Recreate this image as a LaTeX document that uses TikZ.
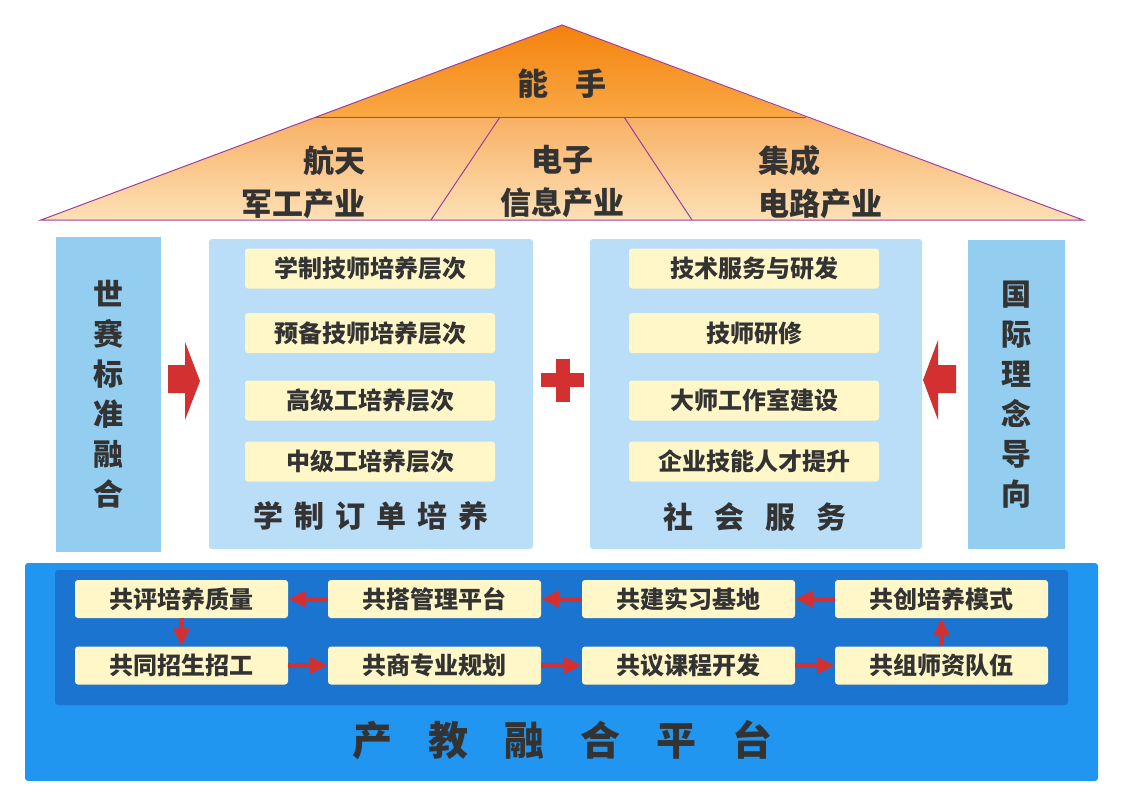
\documentclass[tikz,border=0pt]{standalone}
\usepackage{fontspec}
\setmainfont{Noto Sans CJK SC}
\usetikzlibrary{arrows.meta, positioning}
\definecolor{ink}{HTML}{333333}
\definecolor{roofline}{HTML}{9E3FA0}
\definecolor{rooftop}{HTML}{F4820C}
\definecolor{roofmid}{HTML}{F9A845}
\definecolor{roofmidb}{HTML}{F8B063}
\definecolor{roofbot}{HTML}{FDE0B6}
\definecolor{sideblue}{HTML}{93CDEF}
\definecolor{paleblue}{HTML}{BBDEF8}
\definecolor{itemyellow}{HTML}{FFF7C8}
\definecolor{platblue}{HTML}{2196F0}
\definecolor{deepblue}{HTML}{1B74CF}
\definecolor{arrowred}{HTML}{D33131}
\tikzset{>=Triangle}

\begin{document}
\begin{tikzpicture}[x=1pt, y=-1pt, text=ink, font=\bfseries,
    sidebox/.style={fill=sideblue, align=center, font=\fontsize{30}{40}\selectfont\bfseries},
    panel/.style={fill=paleblue, rounded corners=3pt},
    item/.style={fill=itemyellow, rounded corners=3pt, minimum width=250pt, minimum height=40pt, inner sep=0pt, font=\fontsize{24}{24}\selectfont\bfseries},
    joint/.style={fill=itemyellow, rounded corners=3pt, minimum width=213pt, minimum height=38pt, inner sep=0pt, font=\fontsize{24}{24}\selectfont\bfseries},
    roof/.style={inner sep=0pt, font=\fontsize{31}{43}\selectfont\bfseries},
    flow/.style={->, draw=arrowred, line width=5pt, >={Triangle[length=18pt,width=16pt]}}]
		\useasboundingbox (0,0) rectangle (1124,808);
		
		% roof
		\coordinate (apex) at (562,25);
		\coordinate (ml) at (316,117);
		\coordinate (mr) at (806,117);
		\coordinate (bl) at (41,220);
		\coordinate (br) at (1083,220);
		\shade[top color=rooftop, bottom color=roofmid] (apex) -- (ml) -- (mr) -- cycle;
		\shade[top color=roofmidb, bottom color=roofbot] (ml) -- (bl) -- (br) -- (mr) -- cycle;
		\draw[roofline, line width=1pt] (apex) -- (bl) -- (br) -- cycle;
		\draw[roofline, line width=1pt] (ml) -- (mr);
		\draw[roofline, line width=1pt] (500,117) -- (431,220);
		\draw[roofline, line width=1pt] (624,117) -- (692,220);
		\node[roof] (top) at (562,84) {能\hspace{28pt}手};
		\node[roof, align=right, anchor=east] (aero) at (366,182) {航天\\军工产业};
		\node[roof, align=center] (elec) at (562,182) {电子\\信息产业};
		\node[roof, align=left, anchor=west] (chip) at (758,182) {集成\\电路产业};
		
		% side columns
		\node[sidebox, minimum width=105pt, minimum height=315pt] (wsc) at (108.5,394.5) {世\\赛\\标\\准\\融\\合};
		\node[sidebox, minimum width=97pt, minimum height=309pt] (intl) at (1016.5,394.5) {国\\际\\理\\念\\导\\向};
		
		% two panels
		\node[panel, minimum width=324pt, minimum height=310pt] (order) at (371,394) {};
		\node[panel, minimum width=332pt, minimum height=310pt] (serve) at (756,394) {};
		\node[item] (s1) at (370,268.5) {学制技师培养层次};
		\node[item] (s2) at (370,333) {预备技师培养层次};
		\node[item] (s3) at (370,400.5) {高级工培养层次};
		\node[item] (s4) at (370,461.5) {中级工培养层次};
		\node[item] (t1) at (754,268.5) {技术服务与研发};
		\node[item] (t2) at (754,333) {技师研修};
		\node[item] (t3) at (754,400.5) {大师工作室建设};
		\node[item] (t4) at (754,461.5) {企业技能人才提升};
		\node[font=\fontsize{30}{30}\selectfont\bfseries] (orderlbl) at (371,516)
			{学\hspace{11pt}制\hspace{11pt}订\hspace{11pt}单\hspace{11pt}培\hspace{11pt}养};
		\node[font=\fontsize{30}{30}\selectfont\bfseries] (servelbl) at (755,517)
			{社\hspace{21pt}会\hspace{21pt}服\hspace{21pt}务};
		
		% red arrows and plus
		\fill[arrowred] (168,365) -- (185,365) -- (185,342) -- (200,381) -- (185,420) -- (185,393) -- (168,393) -- cycle;
		\fill[arrowred] (956,365) -- (938,365) -- (938,340) -- (923,380) -- (938,420) -- (938,393) -- (956,393) -- cycle;
		\fill[arrowred] (541,373) rectangle (584,387);
		\fill[arrowred] (555.5,359) rectangle (569.5,402);
		
		% platform
		\node[fill=platblue, rounded corners=3pt, minimum width=1073pt, minimum height=218pt] (plat) at (561.5,672) {};
		\node[fill=deepblue, rounded corners=3pt, minimum width=1013pt, minimum height=135pt] (ring) at (561.5,637.5) {};
		\node[joint] (c1) at (181.5,599) {共评培养质量};
		\node[joint] (c2) at (434.5,599) {共搭管理平台};
		\node[joint] (c3) at (688.5,599) {共建实习基地};
		\node[joint] (c4) at (941.5,599) {共创培养模式};
		\node[joint] (g1) at (181.5,665.5) {共同招生招工};
		\node[joint] (g2) at (434.5,665.5) {共商专业规划};
		\node[joint] (g3) at (688.5,665.5) {共议课程开发};
		\node[joint] (g4) at (941.5,665.5) {共组师资队伍};
		\draw[flow] (c4) -- (c3);
		\draw[flow] (c3) -- (c2);
		\draw[flow] (c2) -- (c1);
		\draw[flow] (c1) -- (g1);
		\draw[flow] (g1) -- (g2);
		\draw[flow] (g2) -- (g3);
		\draw[flow] (g3) -- (g4);
		\draw[flow] (g4) -- (c4);
		\node[font=\fontsize{40}{40}\selectfont\bfseries] (platlbl) at (562,740)
			{产\hspace{36pt}教\hspace{36pt}融\hspace{36pt}合\hspace{36pt}平\hspace{36pt}台};
\end{tikzpicture}
\end{document}
